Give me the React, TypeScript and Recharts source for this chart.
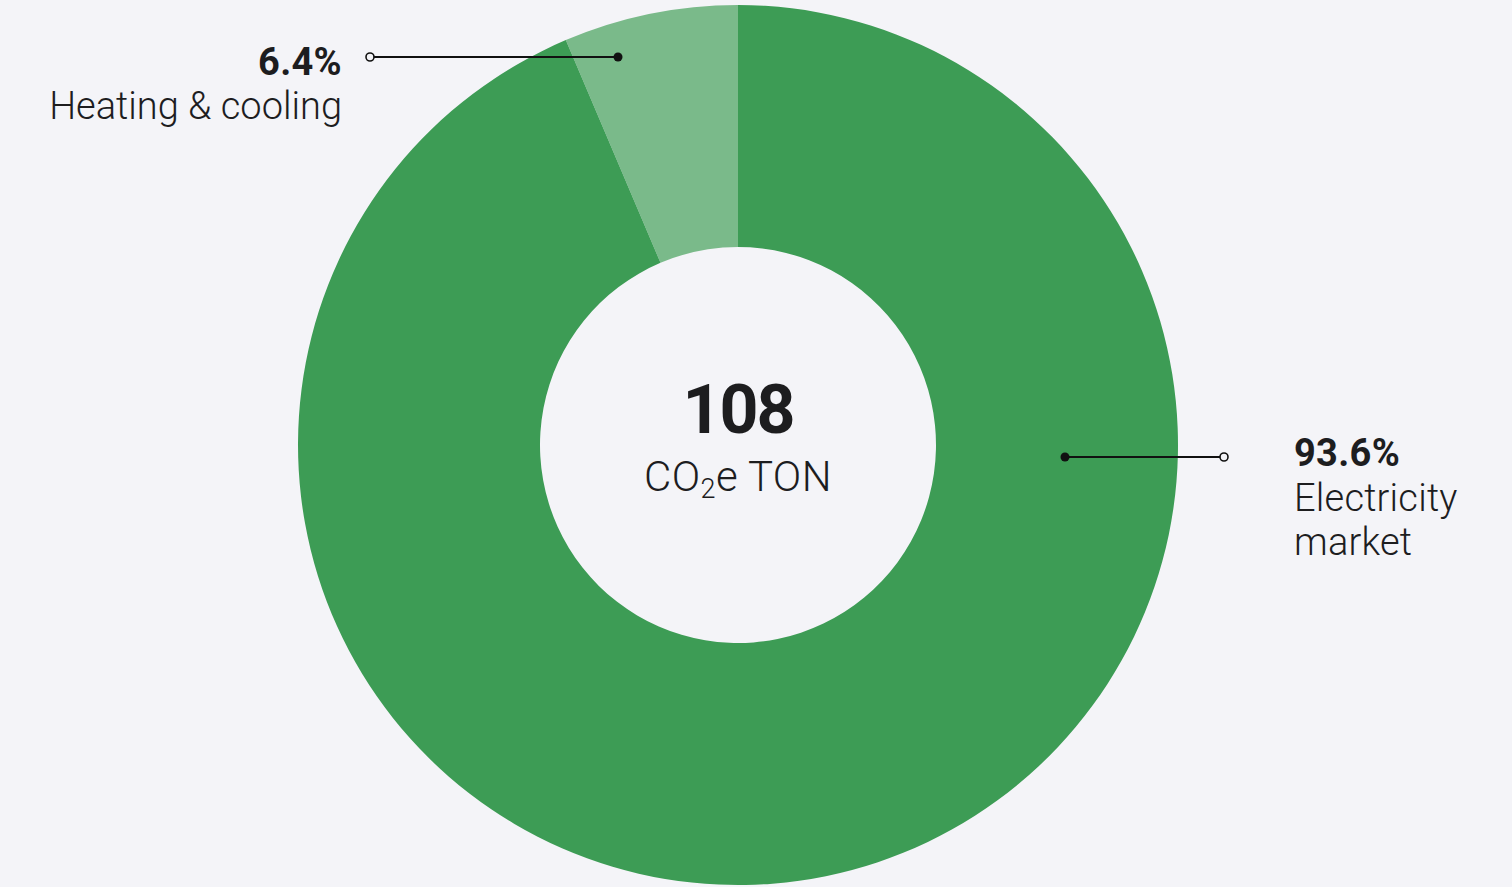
import { Cell, Pie, PieChart } from "recharts"

const categories = ["Heating & cooling", "Electricity market"]
const shares = [6.4, 93.6]
const shareLabels = ["6.4%", "93.6%"]
const totalTons = "108"

const colors = ["#7aba8a", "#3d9c55"]

const data = categories.map((name, i) => ({ name, value: shares[i] }))

const textColor = "#1d1d1f"
const font = "Roboto, 'Liberation Sans', sans-serif"

function Marker({ x1, x2, y, openAt }: { x1: number; x2: number; y: number; openAt: "left" | "right" }) {
  const openX = openAt === "left" ? x1 : x2
  const dotX = openAt === "left" ? x2 : x1
  return (
    <g>
      <line x1={x1} y1={y} x2={x2} y2={y} stroke="#111" strokeWidth={2} />
      <circle cx={dotX} cy={y} r={4.5} fill="#111" />
      <circle cx={openX} cy={y} r={4} fill="#f4f4f8" stroke="#111" strokeWidth={1.6} />
    </g>
  )
}

function renderLabel(props: any) {
  const { cx, cy, index } = props
  if (index === 0) {
    return (
      <g key="lbl0">
        <Marker x1={cx - 368} x2={cx - 120} y={cy - 388} openAt="left" />
        <text x={cx - 396} y={cy - 370} textAnchor="end" fontFamily={font} fontWeight={700} fontSize={38} letterSpacing={0.3} fill={textColor}>
          {shareLabels[0]}
        </text>
        <text x={cx - 396} y={cy - 326} textAnchor="end" fontFamily={font} fontWeight={300} fontSize={38} fill={textColor}>
          {categories[0]}
        </text>
      </g>
    )
  }
  const words = categories[1].split(" ")
  return (
    <g key="lbl1">
      <Marker x1={cx + 327} x2={cx + 486} y={cy + 12} openAt="right" />
      <text x={cx + 556} y={cy + 21} fontFamily={font} fontWeight={700} fontSize={38} letterSpacing={0.3} fill={textColor}>
        {shareLabels[1]}
      </text>
      {words.map((w, i) => (
        <text key={w} x={cx + 556} y={cy + 66 + i * 44} fontFamily={font} fontWeight={300} fontSize={38} letterSpacing={0.2} fill={textColor}>
          {w}
        </text>
      ))}
    </g>
  )
}

export default function App() {
  const cx = 738
  const cy = 445
  return (
    <div style={{ position: "fixed", left: 0, top: 0, width: 1512, height: 887, background: "#f4f4f8" }}>
      <PieChart width={1512} height={887} margin={{ top: 0, right: 0, bottom: 0, left: 0 }}>
        <Pie
          data={data}
          dataKey="value"
          nameKey="name"
          cx={cx}
          cy={cy}
          innerRadius={198}
          outerRadius={440}
          startAngle={90}
          endAngle={450}
          stroke="none"
          label={renderLabel}
          labelLine={false}
          isAnimationActive={false}
        >
          {data.map((d, i) => (
            <Cell key={d.name} fill={colors[i]} />
          ))}
        </Pie>
        <text x={cx} y={cy - 12} textAnchor="middle" fontFamily={font} fontWeight={700} fontSize={68} letterSpacing={-2} fill={textColor}>
          {totalTons}
        </text>
        <text x={cx} y={cy + 46} textAnchor="middle" fontFamily={font} fontWeight={300} fontSize={42} letterSpacing={0.4} fill={textColor}>
          CO
          <tspan fontSize={27} dy={7}>2</tspan>
          <tspan dy={-7}>e TON</tspan>
        </text>
      </PieChart>
    </div>
  )
}
